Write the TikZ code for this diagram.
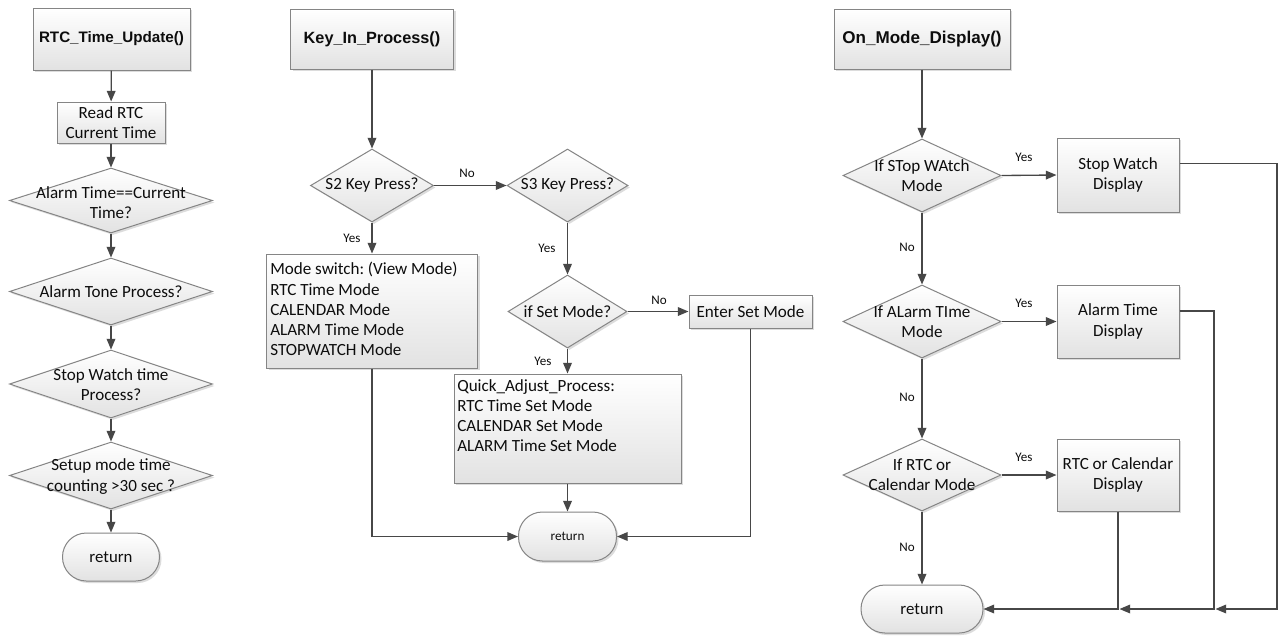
\documentclass[tikz,border=0pt]{standalone}
\usepackage{fontspec}
\setmainfont{Carlito}
\newfontfamily\titlefont{Liberation Sans}
\usetikzlibrary{shapes.geometric,arrows.meta,shadows,calc}
\newdimen\px \px=0.75pt
\definecolor{edgegray}{HTML}{858585}
\definecolor{linegray}{HTML}{474747}
\definecolor{fillbot}{HTML}{E2E2E2}
\definecolor{txtcol}{HTML}{0D0D0D}
\tikzset{
  shp/.style={draw=edgegray, line width=0.75pt, top color=white, bottom color=fillbot,
    drop shadow={shadow xshift=1.5pt, shadow yshift=-1.5pt, fill=black!45, opacity=0.3}},
  box/.style={shp, rectangle, inner sep=0pt, text=txtcol, align=center,
    font=\fontsize{12.8}{15.2}\selectfont},
  dia/.style={shp, diamond, inner sep=0pt},
  term/.style={shp, rectangle, rounded corners=17.9pt, inner sep=0pt, text=txtcol},
  body/.style={inner sep=0pt, text=txtcol, align=center, font=\fontsize{12.8}{15.2}\selectfont},
  listtxt/.style={inner sep=0pt, text=txtcol, align=left, anchor=north west, font=\fontsize{12.8}{15.2}\selectfont},
  ttl/.style={font=\titlefont\bfseries\fontsize{#1}{#1}\selectfont},
  lbl/.style={inner sep=0pt, text=txtcol, font=\fontsize{9.8}{11}\selectfont},
  conn/.style={draw=linegray, line width=1pt},
  arr/.style={conn, -{Triangle[length=8pt,width=6.5pt]}}
}
\begin{document}
\frenchspacing
\begin{tikzpicture}[x=0.75pt,y=-0.75pt]
\path[use as bounding box, fill=white] (0,0) rectangle (1281,637);

% ---------- Left column ----------
\node[box, minimum width=157\px, minimum height=62\px, ttl=11.4] (t1) at (111.5,39) {RTC\_Time\_Update()};
\node[box, minimum width=108\px, minimum height=41\px] (r1) at (111,122.5) {Read RTC\\Current Time};
\node[dia, minimum width=203\px, minimum height=65\px] (d1) at (111,200.5) {};
\node[body] (d1t) at (111,202.5) {Alarm Time==Current\\Time?};
\node[dia, minimum width=203\px, minimum height=67\px] (d2) at (111,291.5) {};
\node[body] (d2t) at (d2) {Alarm Tone Process?};
\node[dia, minimum width=203\px, minimum height=68\px] (d3) at (111,384) {};
\node[body] (d3t) at (111,384.5) {Stop Watch time\\Process?};
\node[dia, minimum width=203\px, minimum height=67\px] (d4) at (111,475.5) {};
\node[body] (d4t) at (111,476.5) {Setup mode time\\counting >30 sec ?};
\node[term, minimum width=97\px, minimum height=48\px, font=\fontsize{12.6}{15}\selectfont] (ret1) at (111,557) {return};

\draw[arr] (t1) -- (r1);
\draw[arr] (r1) -- (d1);
\draw[arr] (d1) -- (d2);
\draw[arr] (d2) -- (d3);
\draw[arr] (d3) -- (d4);
\draw[arr] (d4) -- (ret1);

% ---------- Middle column ----------
\node[box, minimum width=163\px, minimum height=60\px, ttl=12.2] (k) at (372,39) {Key\_In\_Process()};
\node[dia, minimum width=123\px, minimum height=73\px] (s2) at (372,185.5) {};
\node[body] (s2t) at (s2) {S2 Key Press?};
\node[dia, minimum width=121\px, minimum height=73\px] (s3) at (567.5,185.5) {};
\node[body] (s3t) at (s3) {S3 Key Press?};
\node[box, minimum width=211\px, minimum height=114\px] (mode) at (372,311) {};
\node[listtxt] (modet) at (270,262) {Mode switch: (View Mode)\\RTC Time Mode\\CALENDAR Mode\\ALARM Time Mode\\STOPWATCH Mode};
\node[dia, minimum width=119\px, minimum height=73\px] (ifset) at (567.5,311.5) {};
\node[body] (ifsett) at (ifset) {if Set Mode?};
\node[box, minimum width=123\px, minimum height=33\px] (enter) at (750.5,311.5) {Enter Set Mode};
\node[box, minimum width=227\px, minimum height=109\px] (quick) at (567.5,428.5) {};
\node[listtxt] (quickt) at (457,379) {Quick\_Adjust\_Process:\\RTC Time Set Mode\\CALENDAR Set Mode\\ALARM Time Set Mode};
\node[term, minimum width=98\px, minimum height=49\px, font=\fontsize{9.9}{12}\selectfont] (ret2) at (567.5,536.5) {return};

\draw[arr] (k) -- (s2);
\draw[arr] (s2.east) -- (s3.west);
\draw[arr] (s2.south) -- (mode.north);
\draw[arr] (s3.south) -- (ifset.north);
\draw[arr] (ifset.east) -- (enter.west);
\draw[arr] (ifset.south) -- (quick.north);
\draw[arr] (quick.south) -- (ret2.north);
\draw[arr] (mode.south) |- (ret2.west);
\draw[arr] (enter.south) |- (ret2.east);

\node[lbl] (lno1) at (467,173) {No};
\node[lbl] (lyes1) at (352,238) {Yes};
\node[lbl] (lyes2) at (547,248) {Yes};
\node[lbl] (lno2) at (659,300) {No};
\node[lbl] (lyes3) at (543,361) {Yes};

% ---------- Right column ----------
\node[box, minimum width=176\px, minimum height=60\px, ttl=12.8] (on) at (922,39) {On\_Mode\_Display()};
\node[dia, minimum width=158\px, minimum height=73\px] (rd1) at (922,175.5) {};
\node[body] (rd1t) at (rd1) {If STop WAtch\\Mode};
\node[box, minimum width=122\px, minimum height=74\px] (stop) at (1118,175) {Stop Watch\\Display};
\node[dia, minimum width=158\px, minimum height=73\px] (rd2) at (922,321.5) {};
\node[body] (rd2t) at (rd2) {If ALarm TIme\\Mode};
\node[box, minimum width=122\px, minimum height=73\px] (alarm) at (1118,321.5) {Alarm Time\\Display};
\node[dia, minimum width=158\px, minimum height=72\px] (rd3) at (922,475) {};
\node[body] (rd3t) at (rd3) {If RTC or\\Calendar Mode};
\node[box, minimum width=122\px, minimum height=72\px] (rtc) at (1118,475) {RTC or Calendar\\Display};
\node[term, minimum width=122\px, minimum height=48\px, font=\fontsize{12.6}{15}\selectfont] (ret3) at (922,609) {return};

\draw[arr] (on) -- (rd1);
\draw[arr] (rd1.east) -- (stop.west);
\draw[arr] (rd1.south) -- (rd2.north);
\draw[arr] (rd2.east) -- (alarm.west);
\draw[arr] (rd2.south) -- (rd3.north);
\draw[arr] (rd3.east) -- (rtc.west);
\draw[arr] (rd3.south) -- (ret3.north);

\coordinate (j1) at (1277,609);
\coordinate (j2) at (1215.5,609);
\coordinate (a1) at (1214,609);
\coordinate (j3) at (1119.5,609);
\draw[arr] ($(stop.north east)!0.35!(stop.south east)$) -| (j1) -- (j2);
\draw[arr] ($(alarm.north east)!0.36!(alarm.south east)$) -| (a1) -- (j3);
\draw[arr] (rtc.south) |- (ret3.east);

\node[lbl] (ry1) at (1024,157) {Yes};
\node[lbl] (ry2) at (1024,303) {Yes};
\node[lbl] (ry3) at (1024,457) {Yes};
\node[lbl] (rn1) at (907,247) {No};
\node[lbl] (rn2) at (907,397) {No};
\node[lbl] (rn3) at (907,547) {No};
\end{tikzpicture}
\end{document}
